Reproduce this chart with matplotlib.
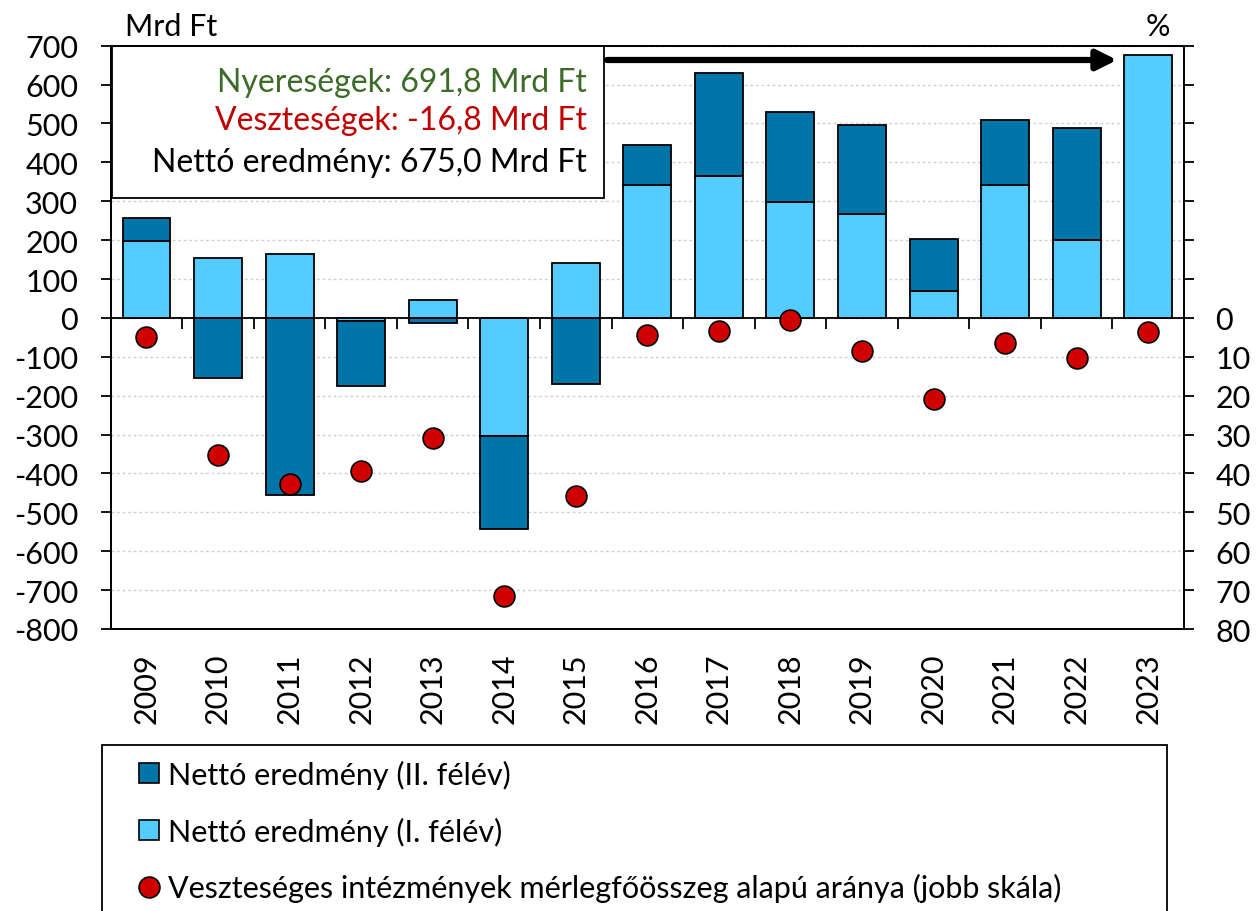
import numpy as np
import matplotlib.pyplot as plt
from matplotlib.lines import Line2D
from matplotlib.patches import Rectangle
from matplotlib.ticker import FuncFormatter

plt.rcParams['font.family'] = ['Lato', 'DejaVu Sans']
plt.rcParams['axes.unicode_minus'] = False

# data (Mrd Ft, left scale; % right scale)
years = [str(y) for y in range(2009, 2024)]
first_half = [198, 154, 165, -8, 45, -303, 140, 341, 365, 298, 266, 68, 343, 200, 675]
second_half = [60, -155, -455, -166, -14, -239, -170, 104, 266, 232, 231, 135, 167, 289, np.nan]
loss_share = [4.8, 35.2, 42.7, 39.3, 31.0, 71.4, 45.8, 4.5, 3.3, 0.5, 8.4, 20.8, 6.5, 10.3, 3.5]

light = '#55CCFF'
dark = '#0075A8'
red = '#D00000'

W, H = 1258, 912
fig = plt.figure(figsize=(W / 100, H / 100), dpi=100)
ax = fig.add_axes([110.7 / W, 1 - 630 / H, (1184 - 110.7) / W, (630 - 46.7) / H])

x = np.arange(len(years))
h1 = np.array(first_half, dtype=float)
h2 = np.array(second_half, dtype=float)
bottom2 = np.where(h2 >= 0, np.maximum(h1, 0), np.minimum(h1, 0))
ok = ~np.isnan(h2)

ax.bar(x, h1, width=0.67, color=light, edgecolor='black', linewidth=1.3, zorder=2)
ax.bar(x[ok], h2[ok], bottom=bottom2[ok], width=0.67, color=dark,
       edgecolor='black', linewidth=1.3, zorder=2)

ax.axhline(0, color='black', lw=1.3, zorder=3)
ax.vlines(x[:-1] + 0.5, -28, 0, color='black', lw=1.3, zorder=3)

ax.set_xlim(-0.5, len(years) - 0.5)
ax.set_ylim(-800, 700)
ax.set_yticks(range(-800, 701, 100))
ax.set_xticks(x)
ax.set_xticklabels(years, rotation=90)
ax.tick_params(axis='x', length=0, pad=17, labelsize=22)
ax.tick_params(axis='y', length=7.5, width=1.3, direction='out', pad=16, labelsize=22)
ax.yaxis.grid(True, color='#D0D0D0', linestyle=(0, (2, 2)), lw=1)
ax.set_axisbelow(True)
for s in ax.spines.values():
    s.set_linewidth(1.3)

ax2 = ax.twinx()
ax2.set_ylim(80, -70)
ax2.set_yticks(range(-70, 81, 10))
ax2.yaxis.set_major_formatter(FuncFormatter(lambda v, p: '' if v < 0 else f'{v:.0f}'))
ax2.tick_params(axis='y', length=7.5, width=1.3, direction='out', pad=15, labelsize=22)
for s in ax2.spines.values():
    s.set_linewidth(1.3)
ax2.plot(x, loss_share, 'o', ms=15, mfc=red, mec='black', mew=1.2, zorder=5)

fig.text(125 / W, 1 - 27 / H, 'Mrd Ft', ha='left', va='center', fontsize=22)
fig.text(1158 / W, 1 - 27 / H, '%', ha='center', va='center', fontsize=22)

# info box
ax.add_patch(Rectangle((0.001, 0.7384), 0.4586, 0.2616, transform=ax.transAxes,
                       facecolor='white', edgecolor='black', lw=1.3, zorder=6, clip_on=False))
ax.text(0.4438, 0.938, 'Nyereségek: 691,8 Mrd Ft', transform=ax.transAxes,
        ha='right', va='center', fontsize=23, color='#3D6B28', zorder=7)
ax.text(0.4438, 0.8723, 'Veszteségek: -16,8 Mrd Ft', transform=ax.transAxes,
        ha='right', va='center', fontsize=23, color='#C00000', zorder=7)
ax.text(0.4438, 0.8008, 'Nettó eredmény: 675,0 Mrd Ft', transform=ax.transAxes,
        ha='right', va='center', fontsize=23, color='black', zorder=7)

ax.annotate('', xy=(0.9377, 0.9755), xytext=(0.4624, 0.9755), xycoords='axes fraction',
            arrowprops=dict(arrowstyle='-|>,head_length=0.4,head_width=0.2',
                            mutation_scale=30, lw=4.5, color='black',
                            shrinkA=0, shrinkB=0))

# legend
handles = [
    Line2D([], [], marker='s', ls='none', ms=15, mfc=dark, mec='black', mew=1.2),
    Line2D([], [], marker='s', ls='none', ms=15, mfc=light, mec='black', mew=1.2),
    Line2D([], [], marker='o', ls='none', ms=15, mfc=red, mec='black', mew=1.2),
]
labels = ['Nettó eredmény (II. félév)', 'Nettó eredmény (I. félév)',
          'Veszteséges intézmények mérlegfőösszeg alapú aránya (jobb skála)']
fig.legend(handles, labels, loc='upper left', bbox_to_anchor=(133.5 / W, 1 - 761 / H),
           frameon=False, fontsize=22, handlelength=1.0, handletextpad=0.13,
           labelspacing=0.9, borderpad=0, borderaxespad=0)
fig.patches.append(Rectangle((101.7 / W, -0.05), (1167 - 101.7) / W, 0.05 + 1 - 746 / H,
                             transform=fig.transFigure, fill=False, edgecolor='black', lw=1.3))

fig.savefig('out.png', dpi=100)
